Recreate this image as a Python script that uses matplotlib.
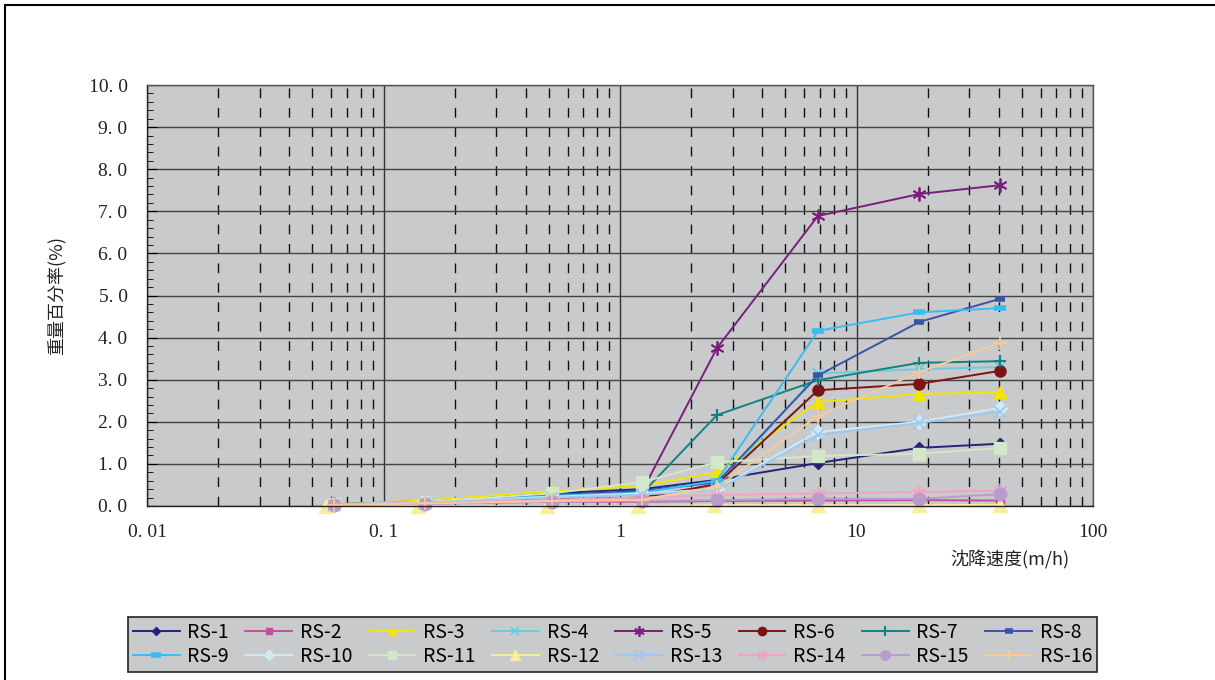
import matplotlib
matplotlib.use("Agg")
import matplotlib.pyplot as plt
from matplotlib.ticker import FixedLocator, LogLocator, NullFormatter, FuncFormatter, MultipleLocator
from matplotlib.patches import Rectangle

plt.rcParams['font.family'] = ['Noto Sans CJK SC', 'DejaVu Sans']

# ---- data ----
speeds = [0.062, 0.15, 0.515, 1.24, 2.57, 6.87, 18.4, 40.4]
speeds_rs12 = [0.057, 0.14, 0.49, 1.19, 2.5, 6.87, 18.4, 40.4]

series_names = ["RS-1", "RS-2", "RS-3", "RS-4", "RS-5", "RS-6", "RS-7", "RS-8",
                "RS-9", "RS-10", "RS-11", "RS-12", "RS-13", "RS-14", "RS-15", "RS-16"]

rs1 = [0.04, 0.12, 0.30, 0.40, 0.62, 1.02, 1.38, 1.48]
rs2 = [0.02, 0.06, 0.10, 0.10, 0.12, 0.13, 0.14, 0.13]
rs3 = [0.04, 0.13, 0.35, 0.48, 0.80, 2.47, 2.66, 2.70]
rs4 = [0.03, 0.08, 0.20, 0.28, 0.45, 3.15, 3.25, 3.30]
rs5 = [0.04, 0.08, 0.18, 0.35, 3.75, 6.89, 7.41, 7.62]
rs6 = [0.03, 0.07, 0.15, 0.20, 0.52, 2.75, 2.90, 3.21]
rs7 = [0.03, 0.06, 0.22, 0.30, 2.16, 2.99, 3.40, 3.44]
rs8 = [0.04, 0.10, 0.26, 0.36, 0.56, 3.10, 4.37, 4.92]
rs9 = [0.04, 0.09, 0.24, 0.32, 0.60, 4.16, 4.60, 4.70]
rs10 = [0.03, 0.09, 0.22, 0.30, 0.40, 1.76, 2.00, 2.33]
rs11 = [0.04, 0.10, 0.30, 0.57, 1.04, 1.19, 1.24, 1.38]
rs12 = [0.00, 0.00, 0.00, 0.00, 0.02, 0.02, 0.02, 0.03]
rs13 = [0.03, 0.08, 0.20, 0.27, 0.38, 1.69, 1.97, 2.24]
rs14 = [0.04, 0.07, 0.15, 0.20, 0.26, 0.30, 0.33, 0.37]
rs15 = [0.03, 0.05, 0.10, 0.12, 0.14, 0.17, 0.17, 0.28]
rs16 = [0.03, 0.06, 0.12, 0.15, 0.45, 2.14, 3.18, 3.87]

all_values = [rs1, rs2, rs3, rs4, rs5, rs6, rs7, rs8,
              rs9, rs10, rs11, rs12, rs13, rs14, rs15, rs16]

x_ticks = [0.01, 0.1, 1, 10, 100]
x_tick_labels = ["0. 01", "0. 1", "1", "10", "100"]
y_ticks = [0, 1, 2, 3, 4, 5, 6, 7, 8, 9, 10]

# ---- styles ----
asterisk = (6, 2, 0)
styles = [
    dict(color='#23237a', marker='D', ms=6),
    dict(color='#c04fa0', marker='s', ms=6),
    dict(color='#f2e600', marker='^', ms=8),
    dict(color='#6ccbe0', marker='x', ms=7, mew=1.3),
    dict(color='#7b1f7b', marker=asterisk, ms=10, mew=1.3),
    dict(color='#7d1414', marker='o', ms=8),
    dict(color='#128282', marker='+', ms=9, mew=1.5),
    dict(color='#3a55a8', marker='_', ms=7, mew=4),
    dict(color='#38bdf0', marker='_', ms=9, mew=4),
    dict(color='#cfe9f5', marker='D', ms=7),
    dict(color='#d3e8c9', marker='s', ms=8),
    dict(color='#f7ef9c', marker='^', ms=10),
    dict(color='#9ec9ef', marker='x', ms=9, mew=1.3),
    dict(color='#f2a2c4', marker=asterisk, ms=10, mew=1.3),
    dict(color='#b99ccd', marker='o', ms=9),
    dict(color='#f8c99b', marker='+', ms=10, mew=1.3),
]

W, H = 1215, 680
fig = plt.figure(figsize=(W / 100, H / 100), dpi=100)
fig.patch.set_facecolor('white')

# outer chart frame
fig.patches.append(Rectangle((5 / W, -0.1), 1.2, (H - 5) / H + 0.1,
                             transform=fig.transFigure, fill=False,
                             edgecolor='black', lw=1.5, clip_on=False))

ax = fig.add_axes([147 / W, (H - 506) / H, (1093 - 147) / W, (506 - 85) / H])
bg = '#c9cacc'
ax.set_facecolor(bg)
ax.set_xscale('log')
ax.set_xlim(0.01, 100)
ax.set_ylim(0, 10)

# grid
ax.xaxis.set_major_locator(FixedLocator(x_ticks))
ax.xaxis.set_minor_locator(LogLocator(base=10, subs=range(2, 10)))
ax.xaxis.set_minor_formatter(NullFormatter())
ax.set_xticklabels(x_tick_labels)
ax.grid(which='major', axis='x', color='#333333', lw=1.0, ls='-')
ax.grid(which='minor', axis='x', color='#111111', lw=1.0, ls=(0, (7, 7)))
ax.yaxis.set_major_locator(FixedLocator(y_ticks))
ax.yaxis.set_minor_locator(MultipleLocator(0.2))
ax.yaxis.set_major_formatter(FuncFormatter(lambda v, p: f"{v:.1f}".replace('.', '. ')))
ax.grid(which='major', axis='y', color='#444444', lw=1.0, ls='-')
ax.set_axisbelow(True)

ax.tick_params(axis='x', which='both', length=0, pad=13, labelsize=14, labelcolor='#222222')
ax.tick_params(axis='y', which='major', direction='in', length=7, pad=14, labelsize=14, labelcolor='#222222')
ax.tick_params(axis='y', which='minor', direction='in', length=4)
for lab in ax.get_xticklabels() + ax.get_yticklabels():
    lab.set_fontfamily(['Liberation Serif', 'DejaVu Serif'])
for s in ax.spines.values():
    s.set_color('#555555')
    s.set_linewidth(1.0)
ax.spines['left'].set_color('#222222')
ax.spines['bottom'].set_color('#222222')

handles = {}
for name, vals, st in zip(series_names, all_values, styles):
    xs = speeds_rs12 if name == "RS-12" else speeds
    st = dict(st)
    c = st.pop('color')
    ln, = ax.plot(xs, vals, label=name, lw=1.4, clip_on=False,
                  color=c, mec=c, mfc=c, **st)
    handles[name] = ln

ax.set_ylabel("重量百分率(%)", fontsize=13, color='#222222', labelpad=16)
fig.text(1010 / W, (H - 560) / H, "沈降速度(m/h)", fontsize=13, color='#222222',
         ha='center', va='center')

# legend filled row-wise: reorder for matplotlib's column-major fill
ncol = 8
order = []
for c in range(ncol):
    order.append(series_names[c])
    order.append(series_names[c + ncol])
leg = fig.legend([handles[n] for n in order], order,
                 loc='lower left', bbox_to_anchor=(128 / W, 8 / H, (1097 - 128) / W, 66 / H),
                 mode='expand', ncol=ncol, fontsize=14, frameon=True, fancybox=False,
                 handlelength=2.4, handletextpad=0.4, columnspacing=0.6, markerscale=0.75,
                 borderaxespad=0, labelspacing=0.15, borderpad=0.25)
leg.get_frame().set_facecolor(bg)
leg.get_frame().set_edgecolor('#222222')
leg.get_frame().set_linewidth(1.2)
leg.get_frame().set_alpha(1)

fig.savefig("out.png", dpi=100, facecolor='white')
